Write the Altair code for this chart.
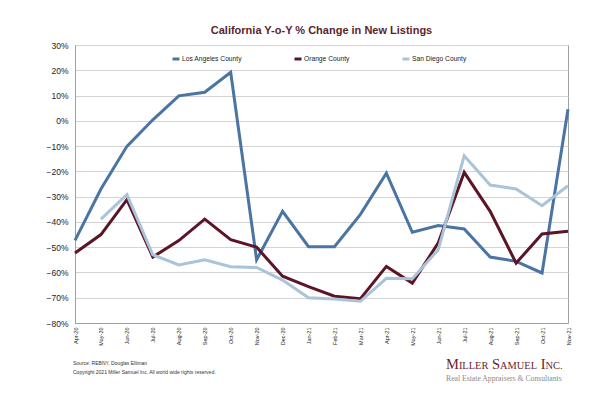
import altair as alt
import pandas as pd

months = ["Apr-20", "May-20", "Jun-20", "Jul-20", "Aug-20", "Sep-20", "Oct-20", "Nov-20", "Dec-20",
          "Jan-21", "Feb-21", "Mar-21", "Apr-21", "May-21", "Jun-21", "Jul-21", "Aug-21", "Sep-21",
          "Oct-21", "Nov-21"]
series_names = ["Los Angeles County", "Orange County", "San Diego County"]
la = [-47.3, -27.0, -10.1, 0.4, 9.9, 11.3, 19.2, -55.0, -35.8, -49.8, -49.8, -37.0, -20.7, -44.1,
      -41.4, -42.8, -53.9, -55.6, -60.2, 4.6]
oc = [-52.3, -45.0, -31.2, -53.9, -47.4, -38.9, -47.0, -50.0, -61.5, -65.6, -69.4, -70.4, -57.6,
      -64.2, -48.3, -20.4, -35.8, -56.3, -44.8, -43.7]
sd = [None, -38.9, -29.2, -53.0, -57.0, -55.0, -57.7, -58.0, -63.0, -70.0, -70.5, -71.4, -62.3,
      -62.5, -51.0, -13.8, -25.4, -27.0, -33.6, -25.7]
y_ticks = [-0.8, -0.7, -0.6, -0.5, -0.4, -0.3, -0.2, -0.1, 0.0, 0.1, 0.2, 0.3]
colors = ["#4a74a4", "#5c1526", "#a9c4d9"]

title_text = "California Y-o-Y % Change in New Listings"
footer_lines = ["Source: REBNY, Douglas Elliman",
                "Copyright 2021 Miller Samuel Inc.  All world wide rights reserved."]
logo_pieces = [("M", 14.5), ("ILLER", 10.4), (" ", 14.5), ("S", 14.5), ("AMUEL", 10.4),
               (" ", 14.5), ("I", 14.5), ("NC.", 10.4)]
logo_sub = "Real Estate Appraisers & Consultants"

rows = []
for name, vals in zip(series_names, [la, oc, sd]):
    for m, v in zip(months, vals):
        if v is not None:
            rows.append({"Month": m, "Value": v / 100.0, "Series": name})
df = pd.DataFrame(rows)

lines = alt.Chart(df).mark_line(strokeWidth=3).encode(
    x=alt.X("Month:N", sort=months, scale=alt.Scale(padding=0),
            axis=alt.Axis(title=None, labelAngle=270, labelFontSize=5.5, labelFont="Liberation Sans",
                          labelColor="#222222", ticks=False, domainColor="#a0a0a0", labelPadding=4,
                          grid=False)),
    y=alt.Y("Value:Q", scale=alt.Scale(domain=[-0.8, 0.3], nice=False, zero=False),
            axis=alt.Axis(title=None, values=y_ticks, format=".0%", labelFontSize=8.5,
                          labelFont="Liberation Sans", labelColor="#222222", ticks=False,
                          labelPadding=7, domainColor="#a0a0a0", grid=True, gridColor="#d4d4d4")),
    color=alt.Color("Series:N", sort=series_names,
                    scale=alt.Scale(domain=series_names, range=colors),
                    legend=alt.Legend(title=None, orient="none", legendX=96, legendY=9,
                                      direction="horizontal", columns=3, symbolType="stroke",
                                      symbolSize=49, symbolStrokeWidth=3, labelFontSize=6.7,
                                      labelFont="Liberation Sans", labelColor="#222222",
                                      columnPadding=46, labelOffset=1)),
)

layers = [lines]

# footer text
for i, line in enumerate(footer_lines):
    layers.append(
        alt.Chart(pd.DataFrame({"t": [line]})).mark_text(
            align="left", baseline="alphabetic", font="Liberation Sans", fontSize=5,
            color="#333333").encode(text="t:N", x=alt.value(-2), y=alt.value(320 + 9 * i))
    )

# logo (small caps emulation)
def times_width(s, size):
    w = {"M": .889, "I": .333, "L": .611, "E": .611, "R": .667, "S": .556, "A": .722, "U": .722,
         "N": .722, "C": .667, ".": .25, " ": .25}
    return sum(w.get(ch, .5) for ch in s) * size

xpos = 371.0
for txt, size in logo_pieces:
    if txt.strip():
        layers.append(
            alt.Chart(pd.DataFrame({"t": [txt]})).mark_text(
                align="left", baseline="alphabetic", font="Liberation Serif", fontSize=size,
                color="#6b1f2e").encode(text="t:N", x=alt.value(xpos), y=alt.value(324))
        )
    xpos += times_width(txt, size)

layers.append(
    alt.Chart(pd.DataFrame({"t": [logo_sub]})).mark_text(
        align="left", baseline="alphabetic", font="Liberation Serif", fontSize=7.7,
        color="#8a8a8a").encode(text="t:N", x=alt.value(371), y=alt.value(336))
)

chart = alt.layer(*layers).properties(
    width=493, height=278,
    autosize=alt.AutoSizeParams(type="none"),
    padding={"left": 67, "top": 37, "right": 24, "bottom": 62},
    background="white",
    title=alt.TitleParams(title_text, fontSize=11, font="Liberation Sans", fontWeight="bold",
                          color="#5b1f2e", anchor="middle", offset=5),
).configure_view(stroke="#a0a0a0", strokeWidth=1)

chart.save("out.html", embed_options={"renderer": "svg", "actions": False})
